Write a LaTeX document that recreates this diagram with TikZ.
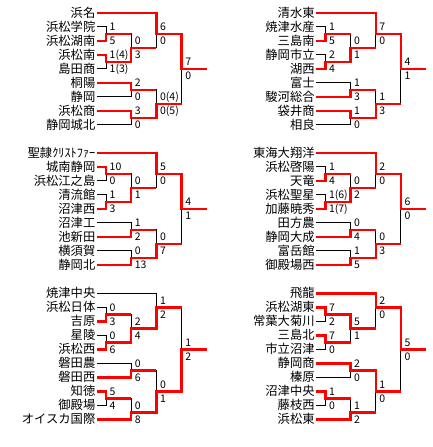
\documentclass[tikz,border=0pt]{standalone}
\usepackage{fontspec}
\setmainfont{Noto Sans CJK JP}
\usepackage{tikz}
\usetikzlibrary{backgrounds}
\definecolor{winred}{HTML}{FF0000}

\tikzset{
  team/.style={anchor=east, inner xsep=1.5pt, inner ysep=0pt, text height=10.5pt, text depth=1.5pt, font=\fontsize{12.3}{14}\selectfont},
  score/.style={anchor=west, inner sep=0pt, text height=7.6pt, text depth=0pt, font=\fontsize{10.5}{12}\selectfont},
  tie/.style={draw=black, line width=1pt},
  win/.style={draw=winred, line width=2.4pt}
}

% one block: prefix, shift, teams, bouts (name/round/half-row/top/bottom/winner/score top/score bottom)
\newcommand\drawblock[4]{%
  \begin{scope}[shift={#2}]
    \foreach \tname [count=\i from 0] in {#3}{
      \node[team] (#1-n\i) at (97,{12.7+14*\i}) {\tname};
      \coordinate (#1-t\i) at (#1-n\i.east);
    }
    \foreach \mm/\col/\hh/\ta/\tb/\tw/\scA/\scB in {#4}{
      \coordinate (#1-\mm) at ({106+25.2*(\col-1)},{12.7+7*\hh});
      \begin{scope}[on background layer]
        \draw[tie] (#1-\ta) -| (#1-\mm);
        \draw[tie] (#1-\tb) -| (#1-\mm);
      \end{scope}
      \draw[win] (#1-\tw) -| (#1-\mm) -- ++(25.2,0);
      \path (#1-\mm) ++(3.5,-7) node[score] (#1-\mm-a) {\scA}
                     ++(0,14) node[score] (#1-\mm-b) {\scB};
    }
  \end{scope}}

\begin{document}
\begin{tikzpicture}[x=1pt, y=-1pt]
  \useasboundingbox (0,0) rectangle (433,447);
  \begin{scope}[on background layer]
    \fill[white] (0,0) rectangle (433,447);
  \end{scope}

  % top left
  \drawblock{a}{(0,0)}
    {浜名,浜松学院,浜松湖南,浜松南,島田商,桐陽,静岡,浜松商,静岡城北}
    {m1/1/3/t1/t2/t2/1/5, m2/1/7/t3/t4/t3/1(4)/1(3), m3/2/5/m1/m2/m2/0/3,
     m4/3/3/t0/m3/t0/6/0, m5/2/11/t5/t6/t5/2/0, m6/2/15/t7/t8/t7/3/0,
     m7/3/13/m5/m6/m6/0(4)/0(5), m8/4/8/m4/m7/m4/7/0}

  % top right
  \drawblock{b}{(219.3,0)}
    {清水東,焼津水産,三島南,静岡市立,湖西,富士,駿河総合,袋井商,相良}
    {m1/1/3/t1/t2/t2/1/5, m2/1/7/t3/t4/t4/2/4, m3/2/5/m1/m2/m2/0/1,
     m4/3/3/t0/m3/t0/7/0, m5/2/11/t5/t6/t6/1/3, m6/2/15/t7/t8/t7/1/0,
     m7/3/13/m5/m6/m6/1/3, m8/4/8/m4/m7/m4/4/1}

  % middle left
  \drawblock{c}{(0,140)}
    {聖隷ｸﾘｽﾄﾌｧｰ,城南静岡,浜松江之島,清流館,沼津西,沼津工,池新田,横須賀,静岡北}
    {m1/1/3/t1/t2/t1/10/0, m2/1/7/t3/t4/t4/1/3, m3/2/5/m1/m2/m2/0/1,
     m4/3/3/t0/m3/t0/5/0, m5/2/11/t5/t6/t6/1/2, m6/2/15/t7/t8/t8/0/13,
     m7/3/13/m5/m6/m6/0/7, m8/4/8/m4/m7/m4/4/1}

  % middle right
  \drawblock{d}{(219.3,140)}
    {東海大翔洋,浜松啓陽,天竜,浜松聖星,加藤暁秀,田方農,静岡大成,富岳館,御殿場西}
    {m1/1/3/t1/t2/t2/1/4, m2/1/7/t3/t4/t4/1(6)/1(7), m3/2/5/m1/m2/m2/0/2,
     m4/3/3/t0/m3/t0/2/0, m5/2/11/t5/t6/t6/0/4, m6/2/15/t7/t8/t8/1/5,
     m7/3/13/m5/m6/m6/0/3, m8/4/8/m4/m7/m4/6/0}

  % bottom left
  \drawblock{e}{(0,280.6)}
    {焼津中央,浜松日体,吉原,星陵,浜松西,磐田農,磐田西,知徳,御殿場,オイスカ国際}
    {m1/1/3/t1/t2/t2/0/3, m2/1/7/t3/t4/t4/0/6, m3/2/5/m1/m2/m2/2/4,
     m4/3/2/t0/m3/m3/1/2, m5/2/11/t5/t6/t6/0/6, m6/1/15/t7/t8/t7/5/4,
     m7/2/17/m6/t9/t9/0/8, m8/3/14/m5/m7/m7/0/1, m9/4/8/m4/m8/m8/1/2}

  % bottom right
  \drawblock{f}{(219.3,280.6)}
    {飛龍,浜松湖東,常葉大菊川,三島北,市立沼津,静岡商,榛原,沼津中央,藤枝西,浜松東}
    {m1/1/3/t1/t2/t1/7/2, m2/1/7/t3/t4/t3/7/0, m3/2/5/m1/m2/m1/5/1,
     m4/3/2/t0/m3/t0/2/0, m5/2/11/t5/t6/t5/2/0, m6/1/15/t7/t8/t7/1/0,
     m7/2/17/m6/t9/t9/1/2, m8/3/14/m5/m7/m5/1/0, m9/4/8/m4/m8/m4/5/0}
\end{tikzpicture}
\end{document}
